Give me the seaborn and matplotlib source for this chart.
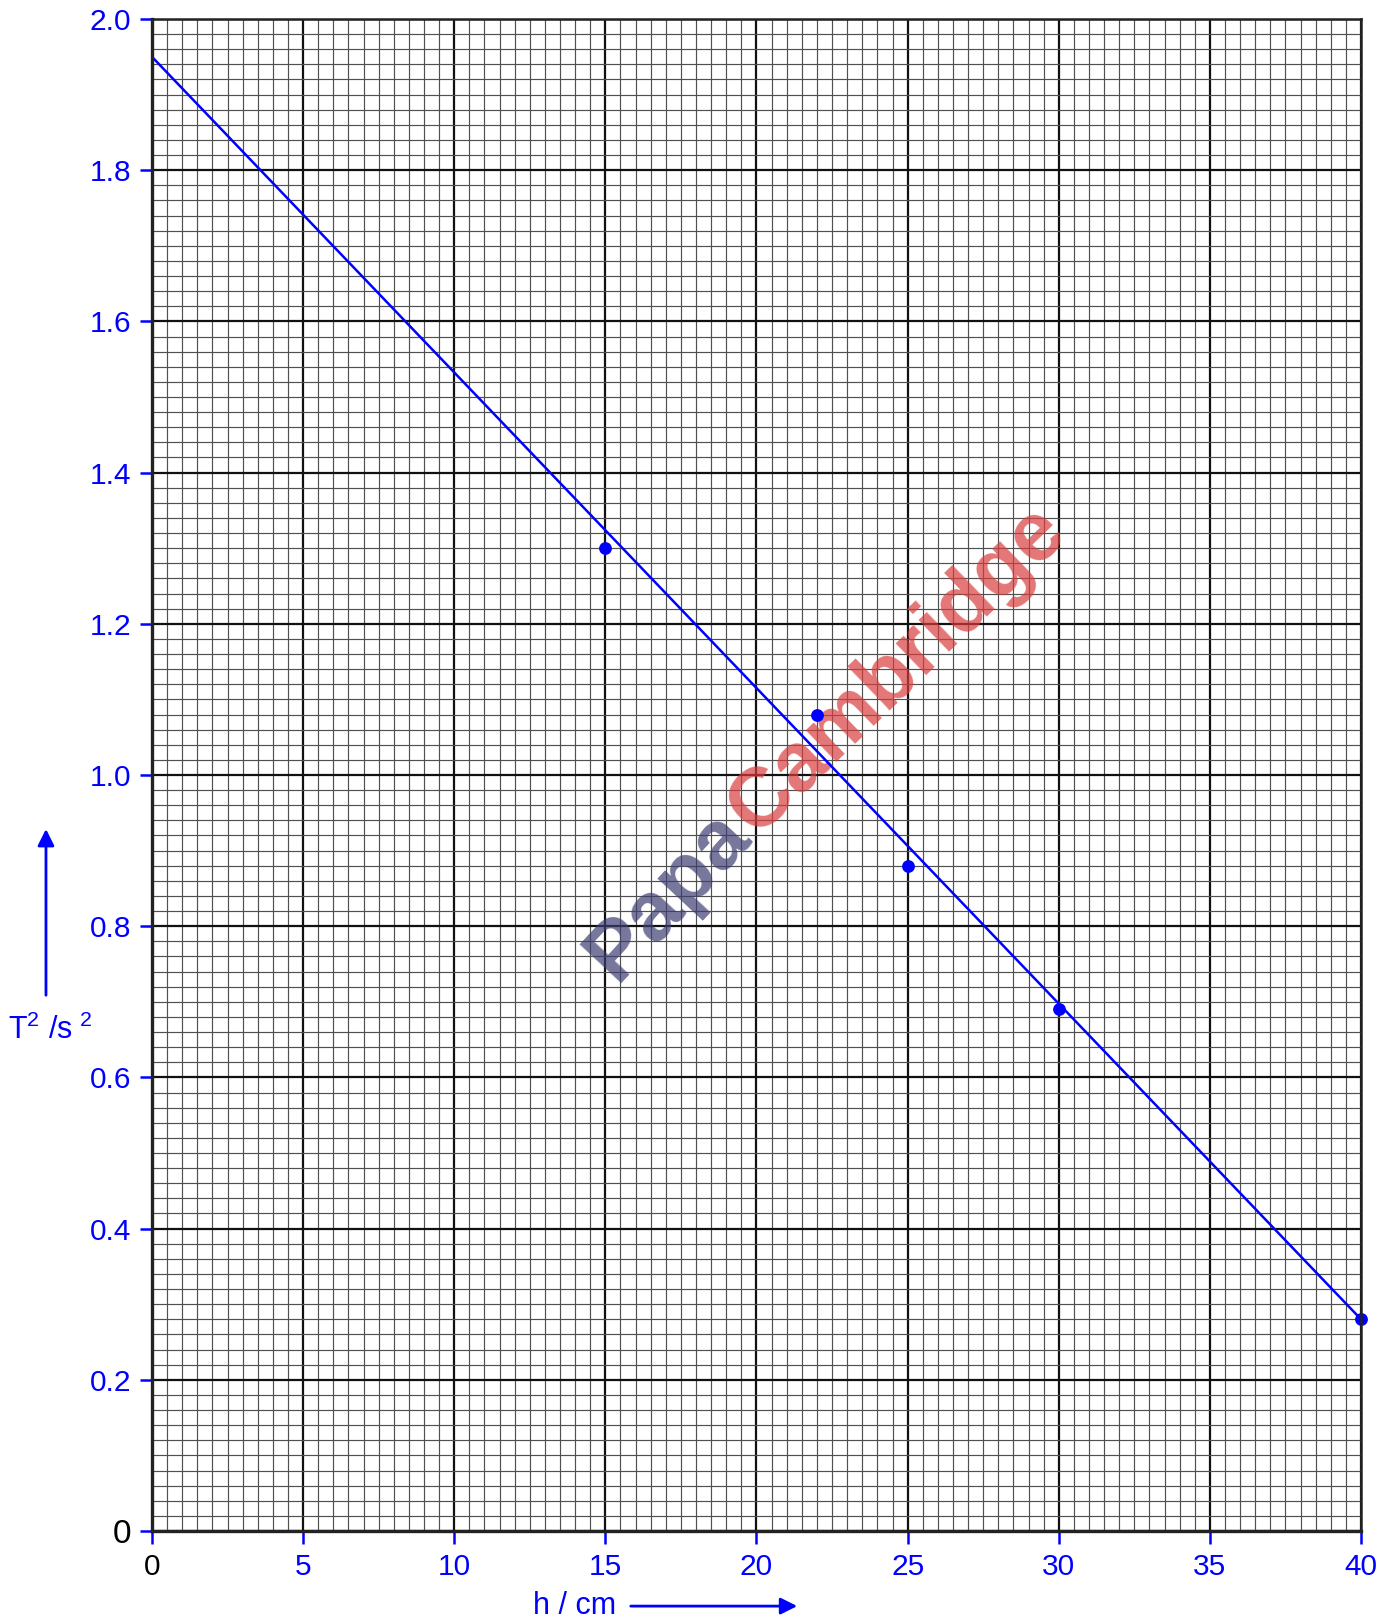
import numpy as np
import pandas as pd
import matplotlib
matplotlib.use("Agg")
import matplotlib.pyplot as plt
import seaborn as sns

h_cm = [15, 22, 25, 30, 40]
t2_s2 = [1.30, 1.08, 0.88, 0.69, 0.28]

# droite de meilleur ajustement (extrémités)
fit_h = [0, 40]
fit_t2 = [1.95, 0.28]

x_ticks = [0, 5, 10, 15, 20, 25, 30, 35, 40]
y_ticks = [0, 0.2, 0.4, 0.6, 0.8, 1.0, 1.2, 1.4, 1.6, 1.8, 2.0]
y_tick_labels = ["0", "0.2", "0.4", "0.6", "0.8", "1.0", "1.2", "1.4", "1.6", "1.8", "2.0"]

sns.set_style("white")
plt.rcParams["font.family"] = ["Liberation Sans", "DejaVu Sans"]
plt.rcParams["mathtext.default"] = "regular"

BLUE = "#0000ff"

data = pd.DataFrame({"h": h_cm, "T2": t2_s2})
fit = pd.DataFrame({"h": fit_h, "T2": fit_t2})

fig = plt.figure(figsize=(13.85, 16.22), dpi=100)
ax = fig.add_axes([0.1097, 0.0561, 0.8730, 0.9322])

# papier millimétré
for v in np.arange(0, 40.01, 0.5):
    major = abs(v / 5 - round(v / 5)) < 1e-9
    ax.axvline(v, color="#111111" if major else "#505050",
               lw=1.6 if major else 0.85, zorder=1)
for v in np.arange(0, 2.001, 0.02):
    major = abs(v / 0.2 - round(v / 0.2)) < 1e-9
    ax.axhline(v, color="#111111" if major else "#505050",
               lw=1.6 if major else 0.85, zorder=1)

sns.lineplot(data=fit, x="h", y="T2", color=BLUE, lw=1.8, ax=ax, zorder=4)
sns.scatterplot(data=data, x="h", y="T2", color=BLUE, s=85, edgecolor=BLUE,
                linewidth=0, ax=ax, zorder=5, clip_on=False)

ax.set_xlim(0, 40)
ax.set_ylim(0, 2.0)
ax.set_xlabel("")
ax.set_ylabel("")

ax.set_xticks(x_ticks)
ax.set_xticklabels([str(t) for t in x_ticks])
ax.set_yticks(y_ticks)
ax.set_yticklabels(y_tick_labels)
ax.tick_params(axis="both", direction="out", length=9, width=1.8,
               colors=BLUE, labelsize=21.5, pad=6, left=True, bottom=True)
ax.tick_params(axis="x", pad=7)
ax.get_xticklabels()[0].set_color("black")
ax.get_yticklabels()[0].set_color("black")
ax.get_yticklabels()[0].set_fontsize(24)
ax.xaxis.get_major_ticks()[0].tick1line.set_color("black")
ax.yaxis.get_major_ticks()[0].tick1line.set_color("black")

for side in ["left", "bottom"]:
    ax.spines[side].set_linewidth(2.4)
    ax.spines[side].set_color("#222222")
for side in ["top", "right"]:
    ax.spines[side].set_linewidth(1.8)
    ax.spines[side].set_color("#222222")
for s in ax.spines.values():
    s.set_zorder(6)

# filigrane
ax.text(0.445, 0.394, "Papa", transform=fig.transFigure, fontsize=60,
        fontweight="bold", color="#3d3d72", alpha=0.7, rotation=47,
        rotation_mode="anchor", ha="left", va="baseline", zorder=2)
ax.text(0.546, 0.484, "Cambridge", transform=fig.transFigure, fontsize=60,
        fontweight="bold", color="#d93c3c", alpha=0.7, rotation=44,
        rotation_mode="anchor", ha="left", va="baseline", zorder=2)

# légendes d'axes avec flèches
fig.text(0.036, 0.365, "T$^2$ /s$^{\\ 2}$", color=BLUE, fontsize=22,
         ha="center", va="center")
fig.add_artist(matplotlib.patches.FancyArrowPatch(
    (0.0332, 0.3847), (0.0332, 0.4906), transform=fig.transFigure,
    arrowstyle="-|>", mutation_scale=25, color=BLUE, lw=2))
fig.text(0.415, 0.0098, "h / cm", color=BLUE, fontsize=22,
         ha="center", va="center")
fig.add_artist(matplotlib.patches.FancyArrowPatch(
    (0.4534, 0.0098), (0.5776, 0.0098), transform=fig.transFigure,
    arrowstyle="-|>", mutation_scale=25, color=BLUE, lw=2))

fig.savefig("out.png", dpi=100)
